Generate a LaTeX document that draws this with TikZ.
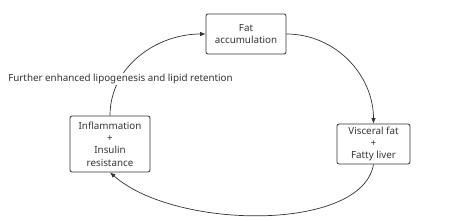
\documentclass[tikz,border=0pt]{standalone}
\usepackage{fontspec}
\setmainfont{Noto Sans}
\usetikzlibrary{arrows.meta}
\definecolor{inkgray}{HTML}{333333}

\tikzset{
  stage/.style={draw=inkgray,line width=0.8pt,rounded corners=2pt,align=center,
    text=inkgray,font=\fontsize{9.8}{12.3}\selectfont,inner sep=1pt},
  cycle/.style={draw=inkgray,line width=0.7pt,-{Latex[length=5.5pt,width=4.5pt]}}
}

\begin{document}
\begin{tikzpicture}[x=1pt,y=-1pt]
			\useasboundingbox (0,0) rectangle (473,220);
			\node[stage,minimum width=80pt,minimum height=40pt] (fat) at (246,34) {Fat\\accumulation};
			\node[stage,minimum width=73pt,minimum height=40pt] (visc) at (373.5,144) {Visceral fat\\+\\Fatty liver};
			\node[stage,minimum width=80pt,minimum height=56pt] (infl) at (110,144) {Inflammation\\+\\Insulin\\resistance};
			
			\draw[cycle] (fat.east) to[out=0,in=90] (visc.north);
			\draw[cycle] (visc.south) .. controls (362,232) and (175,230) .. (infl.south);
			\draw[cycle] (infl.north) to[out=90,in=180] (fat.west);
			\node[fill=white,text=inkgray,font=\fontsize{9.8}{11}\selectfont,inner sep=1pt] (loop) at (120.5,79) {Further enhanced lipogenesis and lipid retention};
		\end{tikzpicture}
\end{document}
